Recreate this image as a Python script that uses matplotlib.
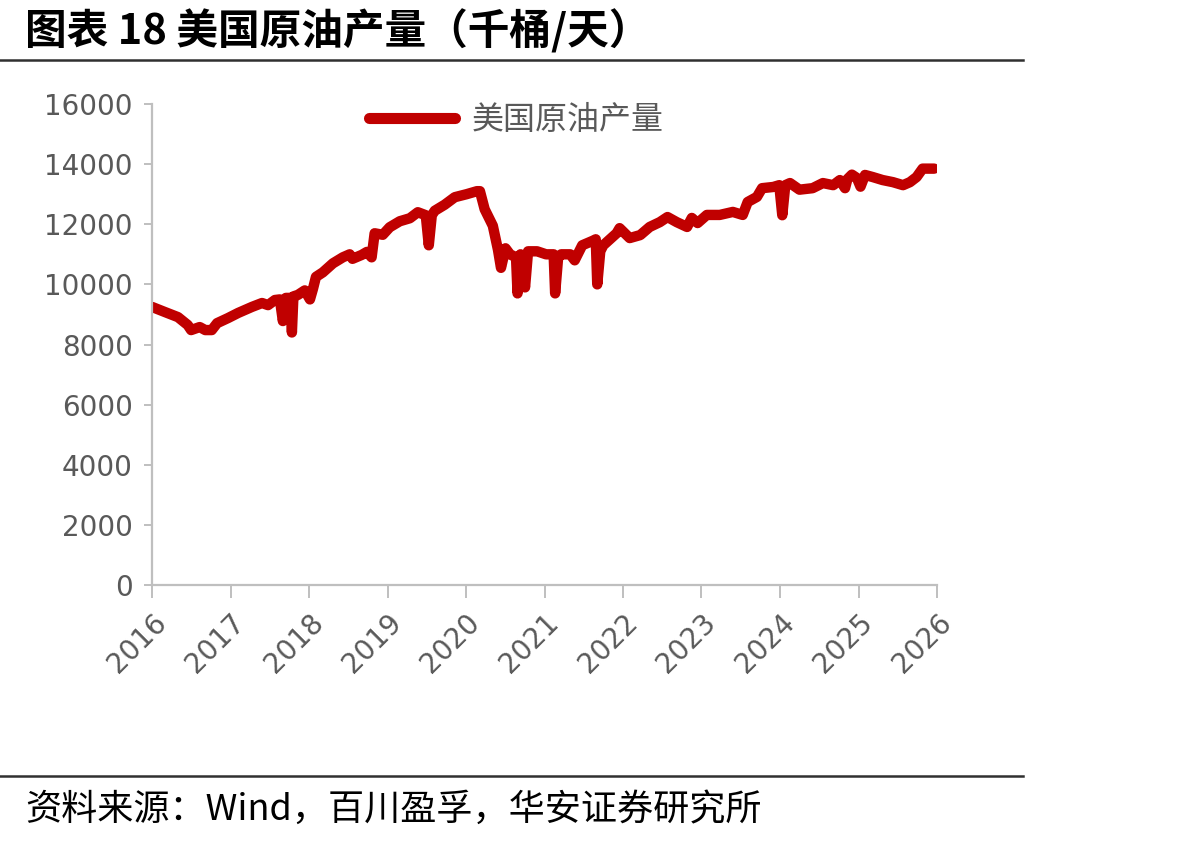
import matplotlib
matplotlib.use('Agg')
import matplotlib.pyplot as plt
import matplotlib.dates as mdates
from matplotlib.lines import Line2D
import pandas as pd

plt.rcParams['font.family'] = ['Noto Sans CJK SC', 'DejaVu Sans']

# weekly US crude production (thousand bbl/day)
dates = ['2016-01-01', '2016-03-01', '2016-05-01', '2016-06-15', '2016-07-01', '2016-08-10',
         '2016-09-05', '2016-10-05', '2016-10-30', '2016-12-20', '2017-02-05', '2017-04-10',
         '2017-05-27', '2017-06-24', '2017-07-26', '2017-08-18', '2017-09-01', '2017-09-15',
         '2017-10-06', '2017-10-13', '2017-10-20', '2017-11-10', '2017-12-12', '2018-01-05',
         '2018-01-19', '2018-02-02', '2018-03-06', '2018-04-22', '2018-06-07', '2018-07-09',
         '2018-07-22', '2018-09-03', '2018-09-27', '2018-10-19', '2018-11-02', '2018-12-10',
         '2019-01-11', '2019-02-27', '2019-04-15', '2019-05-22', '2019-06-28', '2019-07-12',
         '2019-07-26', '2019-08-09', '2019-09-24', '2019-11-10', '2020-01-04', '2020-02-21',
         '2020-03-06', '2020-03-28', '2020-05-05', '2020-05-29', '2020-06-12', '2020-07-03',
         '2020-07-24', '2020-08-21', '2020-08-28', '2020-09-11', '2020-10-02', '2020-10-16',
         '2020-11-27', '2021-01-08', '2021-02-12', '2021-02-19', '2021-03-05', '2021-03-19',
         '2021-04-30', '2021-05-21', '2021-06-25', '2021-08-13', '2021-08-27', '2021-09-03',
         '2021-09-17', '2021-10-01', '2021-12-02', '2021-12-16', '2022-02-01', '2022-03-22',
         '2022-05-05', '2022-06-21', '2022-07-27', '2022-09-08', '2022-10-26', '2022-11-17',
         '2022-12-14', '2023-01-26', '2023-03-27', '2023-05-27', '2023-07-12', '2023-08-04',
         '2023-09-16', '2023-10-10', '2023-12-01', '2023-12-29', '2024-01-12', '2024-01-26',
         '2024-02-17', '2024-04-01', '2024-06-01', '2024-07-19', '2024-09-05', '2024-10-06',
         '2024-10-30', '2024-11-10', '2024-12-01', '2024-12-24', '2025-01-10', '2025-01-31',
         '2025-03-08', '2025-04-23', '2025-06-10', '2025-07-27', '2025-08-28', '2025-09-28',
         '2025-10-26', '2025-12-19']
output = [9250, 9080, 8910, 8650, 8480, 8580,
          8480, 8480, 8710, 8880, 9050, 9250,
          9380, 9310, 9480, 9500, 8780, 9550,
          9550, 8400, 9600, 9650, 9800, 9500,
          9850, 10250, 10400, 10700, 10900, 11000,
          10850, 10980, 11080, 10900, 11700, 11650,
          11900, 12100, 12200, 12400, 12300, 11300,
          12300, 12450, 12650, 12900, 13000, 13100,
          13100, 12500, 11950, 11150, 10550, 11200,
          11000, 10900, 9700, 11000, 9900, 11100,
          11100, 11000, 11000, 9700, 10900, 11000,
          11000, 10800, 11300, 11450, 11500, 10000,
          11100, 11300, 11700, 11870, 11540, 11640,
          11910, 12070, 12240, 12070, 11910, 12210,
          12040, 12310, 12310, 12410, 12310, 12740,
          12910, 13200, 13240, 13300, 12300, 13300,
          13370, 13150, 13200, 13370, 13300, 13470,
          13200, 13500, 13650, 13540, 13250, 13640,
          13570, 13470, 13400, 13300, 13400, 13570,
          13850, 13850]
yticks = [0, 2000, 4000, 6000, 8000, 10000, 12000, 14000, 16000]
years = list(range(2016, 2027))

series = pd.Series(output, index=pd.to_datetime(dates))

W, H = 1177, 844
fig = plt.figure(figsize=(W / 100, H / 100), dpi=100, facecolor='w')
ax = fig.add_axes([152 / W, 1 - 585 / H, (937 - 152) / W, (585 - 104) / H])

red = '#C00000'
grey = '#595959'
ax.plot(series.index, series.values, color=red, lw=7.5,
        solid_joinstyle='round', solid_capstyle='round', label='美国原油产量')

ax.set_ylim(0, 16000)
ax.set_yticks(yticks)
ax.set_xlim(pd.Timestamp('2016-01-01'), pd.Timestamp('2026-01-01'))
ax.set_xticks([pd.Timestamp(f'{y}-01-01') for y in years])
ax.xaxis.set_major_formatter(mdates.DateFormatter('%Y'))

for s in ['top', 'right']:
    ax.spines[s].set_visible(False)
for s in ['left', 'bottom']:
    ax.spines[s].set_color('#BFBFBF')
    ax.spines[s].set_linewidth(1.6)
ax.tick_params(axis='y', length=6, width=1.4, color='#BFBFBF', labelcolor=grey,
               labelsize=20, pad=8)
ax.tick_params(axis='x', length=9, width=1.4, color='#BFBFBF', labelcolor=grey,
               labelsize=20, pad=8)
for lab in ax.get_yticklabels() + ax.get_xticklabels():
    lab.set_family('DejaVu Sans')
for lab in ax.get_xticklabels():
    lab.set_rotation(45)
    lab.set_ha('right')
    lab.set_va('top')
    lab.set_rotation_mode('anchor')

leg = ax.legend(loc='upper left', bbox_to_anchor=(0.24, 1.06), frameon=False,
                handlelength=2.7, handletextpad=0.5, fontsize=23)
for t in leg.get_texts():
    t.set_color(grey)
for h in leg.get_lines():
    h.set_linewidth(8)

fig.text(25 / W, 1 - 31 / H, '图表 18 美国原油产量（千桶/天）', fontsize=30,
         fontweight='bold', va='center', ha='left', color='black')
fig.add_artist(Line2D([0, 1023 / W], [1 - 60 / H] * 2, color='#303030', lw=1.8))
fig.add_artist(Line2D([0, 1023 / W], [1 - 776 / H] * 2, color='#303030', lw=1.8))
fig.text(25 / W, 1 - 810 / H, '资料来源：Wind，百川盈孚，华安证券研究所', fontsize=26,
         va='center', ha='left', color='black')

fig.savefig('out.png', dpi=100, facecolor='w')
